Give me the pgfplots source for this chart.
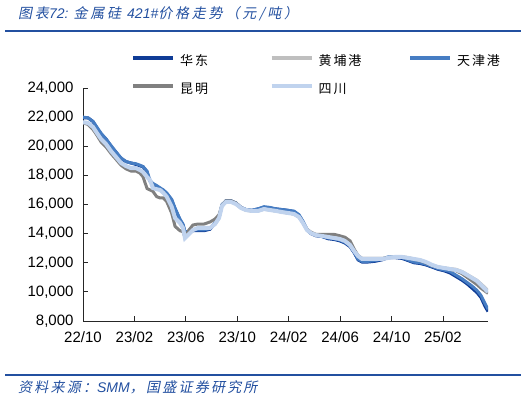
\documentclass[border=0pt]{standalone}
\usepackage{fontspec}
\usepackage{pgfplots}
\pgfplotsset{compat=1.18}
\usepackage{pgfplotstable}
\setmainfont{Liberation Sans}
\newfontfamily\cjk{Noto Sans CJK SC}
\newfontfamily\cjkls[LetterSpace=14]{Noto Sans CJK SC}
\newfontfamily\cjkit[FakeSlant=0.2,LetterSpace=20]{Noto Sans CJK SC}
\newfontfamily\cjkitw[FakeSlant=0.2,LetterSpace=16]{Noto Sans CJK SC}
\definecolor{titleblue}{RGB}{35,80,160}
\definecolor{chd}{RGB}{15,60,150}
\definecolor{chp}{RGB}{191,191,191}
\definecolor{ctj}{RGB}{70,125,195}
\definecolor{ckm}{RGB}{128,128,128}
\definecolor{csc}{RGB}{192,211,238}

\pgfplotstableread{
m     sc    hd    tj    km    hp
0.00  21650 21950 22000 21600 21650
0.39  21600 21950 21950 21500 21600
0.78  21320 21700 21700 21150 21320
1.09  20900 21250 21300 20750 20900
1.40  20500 20850 20900 20300 20500
1.79  20150 20500 20500 19950 20150
2.18  19670 20000 20050 19500 19670
2.57  19260 19600 19600 19100 19260
2.96  18850 19150 19200 18700 18850
3.34  18640 18950 18950 18450 18640
3.73  18500 18850 18850 18300 18500
4.12  18500 18750 18800 18300 18500
4.43  18370 18650 18700 18150 18370
4.67  18230 18600 18600 17900 18230
4.98  17890 18200 18300 17100 17890
5.21  17680 17600 17650 17000 17680
5.44  17130 17400 17450 16900 17130
5.73  17050 17250 17300 16540 17050
5.99  17000 17100 17150 16450 17000
6.25  16800 16950 17000 16450 16800
6.51  16540 16750 16800 16200 16540
6.90  15850 16300 16350 15400 15850
7.16  15070 15700 15750 14500 15070
7.54  14730 14950 15000 14200 14730
7.78  14390 14590 14650 14130 14390
7.93  13700 14100 14150 13770 13700
8.24  13970 14050 14100 14250 13970
8.55  14250 14200 14250 14590 14250
8.94  14390 14200 14250 14660 14390
9.41  14390 14200 14250 14660 14390
9.88  14390 14300 14350 14800 14390
10.27 14660 14700 14750 15000 14660
10.58 15070 15100 15150 15300 15070
10.81 15900 15950 16000 15950 15900
11.12 16180 16250 16250 16250 16180
11.51 16180 16250 16250 16250 16180
11.90 16030 16100 16100 16100 16030
12.29 15760 15800 15800 15800 15760
12.68 15620 15650 15650 15600 15620
13.14 15560 15600 15600 15560 15560
13.61 15560 15700 15700 15560 15560
14.08 15690 15800 15850 15690 15690
14.54 15620 15750 15800 15620 15620
15.01 15560 15700 15700 15560 15560
15.48 15480 15650 15650 15480 15480
15.94 15420 15600 15600 15420 15420
16.41 15350 15500 15550 15350 15350
16.80 15140 15250 15300 15140 15140
17.11 14730 14800 14850 14730 14730
17.42 14250 14250 14300 14300 14250
17.73 14040 14000 14050 14100 14040
18.12 13900 13850 13900 13950 13900
18.59 13840 13800 13800 13950 13840
19.06 13770 13650 13700 13950 13770
19.52 13700 13600 13650 13950 13700
19.99 13630 13500 13550 13850 13630
20.38 13490 13350 13400 13750 13490
20.77 13220 13100 13150 13500 13220
21.08 12810 12700 12750 12950 12810
21.39 12460 12200 12250 12500 12460
21.70 12260 12050 12100 12300 12260
22.17 12260 12050 12100 12300 12260
22.71 12260 12100 12150 12300 12260
23.26 12260 12200 12250 12300 12260
23.72 12330 12350 12400 12350 12330
24.27 12400 12350 12400 12400 12400
24.81 12400 12300 12350 12400 12400
25.28 12330 12150 12200 12350 12330
25.74 12260 12000 12050 12250 12260
26.21 12190 11950 12000 12150 12190
26.68 12050 11850 11900 12000 12050
27.15 11850 11700 11750 11800 11850
27.61 11710 11550 11600 11700 11710
28.08 11640 11450 11500 11650 11640
28.54 11570 11300 11400 11550 11600
29.01 11500 11050 11150 11450 11550
29.48 11360 10800 10900 11250 11400
29.87 11160 10550 10650 11000 11200
30.26 10950 10250 10400 10750 11000
30.64 10750 9950  10100 10500 10800
30.96 10470 9600  9750  10250 10550
31.27 10200 9000  9200  10050 10300
31.50 9990  8650  8800  9900  10100
}\data

\begin{document}
\begin{tikzpicture}
\useasboundingbox (0,0) rectangle (526pt,400pt);
\node[anchor=west, inner sep=0pt, text=titleblue, font=\fontsize{14}{16}\selectfont] at (18pt,386pt)
  {{\cjkit 图表}{\itshape 72: }{\cjkit 金属硅 }{\itshape 421\#}{\cjkit 价格走势（元/吨）}};
\draw[titleblue, line width=2pt] (5pt,369pt) -- (521pt,369pt);
\draw[titleblue, line width=1.5pt] (5pt,25pt) -- (521pt,25pt);
\node[anchor=west, inner sep=0pt, text=titleblue, font=\fontsize{14}{16}\selectfont] at (18pt,13pt)
  {{\cjkitw 资料来源：}{\itshape SMM}{\cjkitw ，国盛证券研究所}};
\begin{axis}[
  at={(83pt,79pt)}, anchor=south west,
  scale only axis, width=405pt, height=233pt,
  xmin=0, xmax=31.5, ymin=8000, ymax=24000,
  axis x line*=bottom, axis y line*=left,
  axis line style={black!85, line width=0.8pt, -},
  xtick={0,4,...,28},
  xticklabels={22/10,23/02,23/06,23/10,24/02,24/06,24/10,25/02},
  ytick={8000,10000,...,24000},
  scaled y ticks=false,
  /pgf/number format/assume math mode=true,
  /pgf/number format/1000 sep={,},
  tick align=inside, major tick length=5pt,
  tick style={black!85, line width=0.8pt},
  ticklabel style={font=\fontsize{15}{18}\selectfont},
  xticklabel style={yshift=-7pt},
  yticklabel style={xshift=-6pt},
  legend columns=3,
  legend image code/.code={\draw[#1, line width=4pt] (0pt,4.5pt) -- (40pt,4.5pt);},
  legend style={draw=none, fill=none, inner sep=0pt,
    at={(axis description cs:0.1185,1.137)}, anchor=north west,
    font=\fontsize{13}{15}\selectfont,
    nodes={inner sep=0pt, text height=9pt, text depth=3pt},
    row sep=15pt,
    /tikz/every odd column/.append style={column sep=5pt}},
]
\addplot[chd, line width=3pt] table[x=m, y=hd] {\data};
\addlegendentry{\makebox[89.5pt][l]{\cjkls 华东}}
\addplot[chp, line width=3pt] table[x=m, y=hp] {\data};
\addlegendentry{\makebox[89.5pt][l]{\cjkls 黄埔港}}
\addplot[ctj, line width=3pt] table[x=m, y=tj] {\data};
\addlegendentry{\makebox[60pt][l]{\cjkls 天津港}}
\addplot[ckm, line width=3pt] table[x=m, y=km] {\data};
\addlegendentry{\makebox[89.5pt][l]{\cjkls 昆明}}
\addplot[csc, line width=4pt] table[x=m, y=sc] {\data};
\addlegendentry{\makebox[89.5pt][l]{\cjkls 四川}}
\end{axis}
\end{tikzpicture}
\end{document}
